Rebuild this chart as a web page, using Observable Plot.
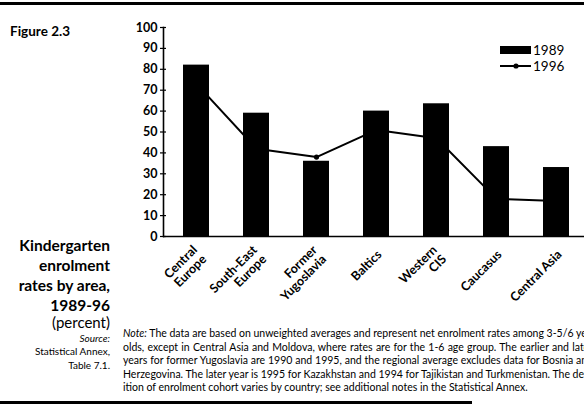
<!DOCTYPE html>
<html><head><meta charset="utf-8">
<script src="https://cdn.jsdelivr.net/npm/d3@7"></script>
<script src="https://cdn.jsdelivr.net/npm/@observablehq/plot@0.6"></script>
<style>
html,body{margin:0;padding:0;background:#fff;}
body{width:584px;height:406px;overflow:hidden;position:relative;font-family:Lato,sans-serif;color:#000;}
#chart{position:absolute;left:0;top:0;}
.abs{position:absolute;white-space:nowrap;}
.title{left:0;width:110px;text-align:right;font-weight:700;font-size:15.5px;line-height:1;}
.src{left:0;width:110px;text-align:right;font-size:10px;line-height:1;}
#note{left:123px;top:327px;width:470px;font-size:10.5px;line-height:13.5px;}
#note div{text-align:justify;text-align-last:justify;white-space:nowrap;}
#note div.last{text-align-last:left;}
</style></head><body>
<div class="abs" style="left:0;top:2px;width:584px;height:3px;background:#000"></div>
<div class="abs" style="left:0;top:401px;width:472px;height:2.5px;background:#000"></div>
<div class="abs" style="left:10px;top:23px;font-weight:700;font-size:13.5px;">Figure 2.3</div>
<div id="chart"></div>
<svg class="abs" style="left:495px;top:38px" width="89" height="36">
  <rect x="5" y="8" width="31" height="8" fill="#000"/>
  <text x="38" y="16.5" font-size="13.5" font-family="Lato">1989</text>
  <line x1="5" x2="36" y1="28" y2="28" stroke="#000" stroke-width="2"/>
  <circle cx="21" cy="28" r="2.6" fill="#000"/>
  <text x="38" y="32.5" font-size="13.5" font-family="Lato">1996</text>
</svg>
<div class="abs title" style="top:238px">Kindergarten</div>
<div class="abs title" style="top:258px">enrolment</div>
<div class="abs title" style="top:278px">rates by area,</div>
<div class="abs title" style="top:298px">1989-96</div>
<div class="abs title" style="top:315px;font-weight:400;font-size:15px">(percent)</div>
<div class="abs src" style="top:333px;font-style:italic">Source:</div>
<div class="abs src" style="top:346px">Statistical Annex,</div>
<div class="abs src" style="top:360px">Table 7.1.</div>
<div class="abs" id="note">
<div><i>Note:</i> The data are based on unweighted averages and represent net enrolment rates among 3-5/6 year</div>
<div>olds, except in Central Asia and Moldova, where rates are for the 1-6 age group. The earlier and later</div>
<div>years for former Yugoslavia are 1990 and 1995, and the regional average excludes data for Bosnia and</div>
<div>Herzegovina. The later year is 1995 for Kazakhstan and 1994 for Tajikistan and Turkmenistan. The defin-</div>
<div class="last">ition of enrolment cohort varies by country; see additional notes in the Statistical Annex.</div>
</div>
<script>
const areas = ["Central Europe","South-East Europe","Former Yugoslavia","Baltics","Western CIS","Caucasus","Central Asia"];
const areaLabels = ["Central\nEurope","South-East\nEurope","Former\nYugoslavia","Baltics","Western\nCIS","Caucasus","Central Asia"];
const rates1989 = [82, 59, 36, 60, 63.5, 43, 33];
const rates1996 = [73, 42, 38, 51, 47, 18, 17];
const yTicks = [0,10,20,30,40,50,60,70,80,90,100];

const data = areas.map((a,i)=>({area:a, v89:rates1989[i], v96:rates1996[i]}));
const labelOf = new Map(areas.map((a,i)=>[a, areaLabels[i]]));

const chart = Plot.plot({
  width: 584, height: 310,
  marginLeft: 163, marginRight: 0, marginTop: 27, marginBottom: 74,
  x: {domain: areas, range: [163, 589], paddingInner: 0.57, paddingOuter: 0.31, label: null},
  y: {domain: [0,100], label: null},
  style: {fontFamily: "Lato", fontSize: "12.5px", fontWeight: 700, overflow: "visible", background: "transparent"},
  marks: [
    Plot.line(data, {x: "area", y: "v96", stroke: "#000", strokeWidth: 2}),
    Plot.barY(data, {x: "area", y: "v89", fill: "#000"}),
    Plot.dot(data, {x: "area", y: "v96", r: 2.6, fill: "#000"}),
    Plot.ruleY([0], {strokeWidth: 1.6}),
    Plot.frame({anchor: "left", strokeWidth: 1.6}),
    Plot.axisY({ticks: yTicks, tickSize: 6, dx: 3, tickPadding: 3, strokeWidth: 1.2, label: null}),
    Plot.axisX({tickSize: 0, tickRotate: -45, tickFormat: d => labelOf.get(d), label: null, lineHeight: 1.05, dy: 4, dx: 3})
  ]
});
document.getElementById("chart").appendChild(chart);
</script>
</body></html>
